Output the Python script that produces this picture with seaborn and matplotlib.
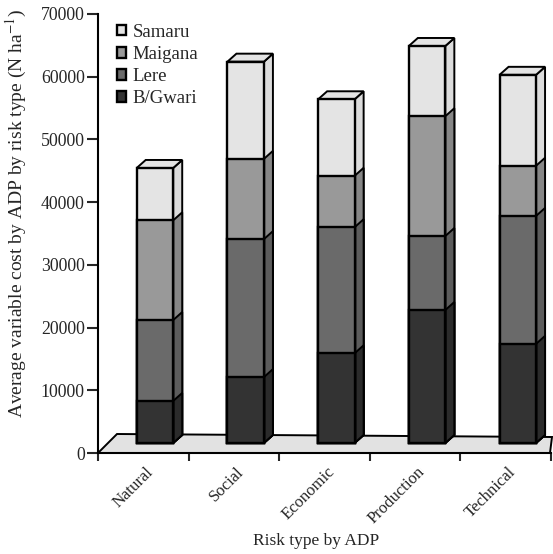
"""Stacked pseudo-3D bars: average variable cost by ADP and risk type."""
import matplotlib
matplotlib.use("Agg")
import matplotlib.pyplot as plt
import matplotlib.transforms as mtrans
import numpy as np
import seaborn as sns
from matplotlib.patches import Patch, Polygon

categories = ["Natural", "Social", "Economic", "Production", "Technical"]
bgwari = [8300, 12100, 15900, 22800, 17400]
lere = [12900, 22000, 20100, 11800, 20400]
maigana = [15900, 12800, 8200, 19100, 8000]
samaru = [8350, 15500, 12200, 11200, 14500]
series_names = ["B/Gwari", "Lere", "Maigana", "Samaru"]
y_ticks = [0, 10000, 20000, 30000, 40000, 50000, 60000, 70000]

FRONT = ["#333333", "#6a6a6a", "#999999", "#e4e4e4"]
SIDE = ["#2b2b2b", "#5c5c5c", "#868686", "#dcdcdc"]
FLOOR_VALUE = 1600  # front plane of the bars sits above the axis line

W, H = 553, 554
sns.set_style("white")
plt.rcParams["font.family"] = ["Liberation Serif", "DejaVu Serif"]

fig = plt.figure(figsize=(W / 100, H / 100), dpi=100)
ax = fig.add_axes([98 / W, (H - 453) / H, 453 / W, 439 / H])
ax.set_xlim(-0.628, 4.366)
ax.set_ylim(0, 70000)
x_scale = 453 / (4.366 + 0.628)
y_scale = 439 / 70000
dx = 9 / x_scale
dy = 8 / y_scale
bar_width = 36.5 / x_scale


def px(x, y):
    return (x / W, 1 - y / H)


# back floor of the fake 3D chart
fig.add_artist(Polygon([px(98, 453), px(117, 434), px(552, 437), px(550, 453)],
                       closed=True, facecolor="#e2e2e2", edgecolor="black",
                       linewidth=1.4, transform=fig.transFigure, zorder=0.5))

tops = np.cumsum([bgwari, lere, maigana, samaru], axis=0)
for i in range(3, -1, -1):
    before = len(ax.patches)
    sns.barplot(x=categories, y=tops[i], color=FRONT[i], saturation=1,
                width=bar_width, edgecolor="black", linewidth=1.7, ax=ax,
                order=categories, native_scale=False, zorder=2)
    for j, bar in enumerate(ax.patches[before:]):
        x0 = bar.get_x()
        x1 = x0 + bar.get_width()
        top = tops[i][j]
        bar.set_y(FLOOR_VALUE)
        bar.set_height(top - FLOOR_VALUE)
        bar.set_facecolor(FRONT[i])
        ax.add_patch(Polygon([(x1, FLOOR_VALUE), (x1 + dx, FLOOR_VALUE + dy),
                              (x1 + dx, top + dy), (x1, top)], closed=True,
                             facecolor=SIDE[i], edgecolor="black",
                             linewidth=1.4, zorder=1.5, clip_on=False))
        if i == 3:
            ax.add_patch(Polygon([(x0, top), (x0 + dx, top + dy),
                                  (x1 + dx, top + dy), (x1, top)], closed=True,
                                 facecolor=FRONT[i], edgecolor="black",
                                 linewidth=1.4, zorder=1.5, clip_on=False))

ax.set_xlim(-0.628, 4.366)
ax.set_ylim(0, 70000)
ax.patch.set_alpha(0)
ax.set_zorder(2)

ax.set_yticks(y_ticks)
ax.tick_params(axis="y", left=True, length=8, width=1.5, labelsize=12.8, pad=1.5)
edges = [-0.628 + k * 90.6 / x_scale for k in range(6)]
ax.set_xticks(edges, labels=[])
ax.tick_params(axis="x", which="major", bottom=True, length=6, width=1.5)
ax.set_xticks(range(5), labels=categories, minor=True)
ax.tick_params(axis="x", which="minor", bottom=False, labelsize=12, pad=6)
shift = mtrans.ScaledTranslation(-10 / 100, 0, fig.dpi_scale_trans)
for lab in ax.get_xticklabels(minor=True):
    lab.set_rotation(45)
    lab.set_ha("right")
    lab.set_rotation_mode("anchor")
    lab.set_transform(lab.get_transform() + shift)

sns.despine(ax=ax)
for side in ("left", "bottom"):
    ax.spines[side].set_linewidth(1.5)
    ax.spines[side].set_color("black")

ax.set_xlabel("Risk type by ADP", fontsize=12.5, labelpad=0)
ax.xaxis.set_label_coords((316 - 98) / 453, -(541 - 453) / 439, transform=ax.transAxes)
ax.xaxis.label.set_va("center")
ax.set_ylabel("Average variable cost by ADP by risk type (N ha$^{-1}$)", fontsize=14,
              math_fontfamily="stix")
ax.yaxis.set_label_coords(-(98 - 29) / 453, (453 - 213) / 439, transform=ax.transAxes)

handles = [Patch(facecolor=FRONT[i], edgecolor="black", linewidth=1.7) for i in (3, 2, 1, 0)]
ax.legend(handles, series_names[::-1], frameon=False, fontsize=13.5,
          loc="upper left", bbox_to_anchor=((113.5 - 98) / 453, 1 - (20 - 14) / 439),
          borderaxespad=0, borderpad=0.2, handlelength=0.48, handleheight=0.5,
          handletextpad=0.32, labelspacing=0.27)

fig.savefig("out.png", dpi=100)
